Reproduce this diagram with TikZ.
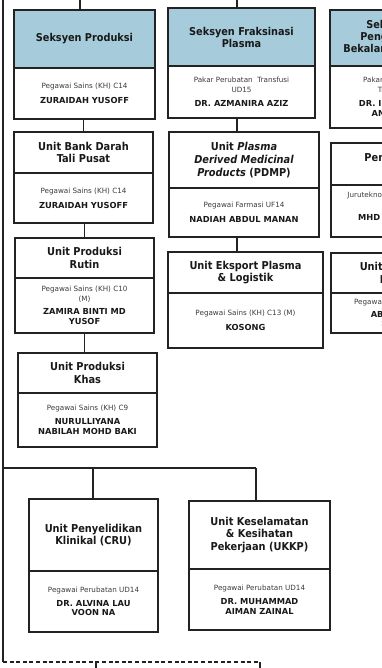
\documentclass[tikz,border=0pt]{standalone}
\usepackage{fontspec}
\setmainfont{DejaVu Sans}
\newfontfamily\condfont{DejaVu Sans Condensed}
\definecolor{hdrblue}{RGB}{166,204,219}
\definecolor{linec}{RGB}{34,34,34}
\definecolor{txtc}{RGB}{25,25,25}
\definecolor{smallc}{RGB}{60,60,60}
\newcommand\nmf{\color{txtc}\bfseries\fontsize{8.3}{10.2}\selectfont}
\tikzset{
  box/.style={draw=linec, line width=1.1pt, inner sep=0pt, outer sep=0pt, align=center, anchor=north west},
  hdrbox/.style={box, fill=hdrblue, text=txtc, font=\condfont\bfseries\fontsize{10.8}{12}\selectfont},
  unitbox/.style={box, fill=white, text=txtc, font=\condfont\bfseries\fontsize{10.9}{12.6}\selectfont},
  bodybox/.style={box, fill=white, text=smallc, font=\fontsize{7.2}{9.8}\selectfont},
  conn/.style={draw=linec, line width=1.1pt},
  dashconn/.style={draw=linec, line width=1.1pt, dash pattern=on 4pt off 2.6pt},
}
\begin{document}
\begin{tikzpicture}[x=1pt,y=-1pt]
\useasboundingbox (0,0) rectangle (382,668);
\clip (0,0) rectangle (382,668);
\fill[white] (0,0) rectangle (382,668);

% ---- column 1
\node[hdrbox, minimum width=141pt, minimum height=58pt] (sph) at (14,10) {Seksyen Produksi};
\node[bodybox, minimum width=141pt, minimum height=51pt] (spb) at (sph.south west) {Pegawai Sains (KH) C14\\[5pt]\nmf ZURAIDAH YUSOFF};

\node[unitbox, minimum width=139pt, minimum height=41pt] (ubdh) at (14,132) {Unit Bank Darah\\Tali Pusat};
\node[bodybox, minimum width=139pt, minimum height=50pt] (ubdb) at (ubdh.south west) {Pegawai Sains (KH) C14\\[5pt]\nmf ZURAIDAH YUSOFF};

\node[unitbox, minimum width=139pt, minimum height=40pt] (uprh) at (15,238) {Unit Produksi\\Rutin};
\node[bodybox, minimum width=139pt, minimum height=55pt] (uprb) at (uprh.south west) {Pegawai Sains (KH) C10\\(M)\\[3pt]\nmf ZAMIRA BINTI MD\\\nmf YUSOF};

\node[unitbox, minimum width=139pt, minimum height=40pt] (upkh) at (18,353) {Unit Produksi\\Khas};
\node[bodybox, minimum width=139pt, minimum height=54pt] (upkb) at (upkh.south west) {Pegawai Sains (KH) C9\\[4pt]\nmf NURULLIYANA\\\nmf NABILAH MOHD BAKI};

% ---- column 2
\node[hdrbox, minimum width=147pt, minimum height=58pt] (sfh) at (168,8) {Seksyen Fraksinasi\\Plasma};
\node[bodybox, minimum width=147pt, minimum height=52pt] (sfb) at (sfh.south west) {Pakar Perubatan~~Transfusi\\UD15\\[4pt]\nmf DR. AZMANIRA AZIZ};

\node[unitbox, minimum width=150pt, minimum height=56pt] (pdmph) at (169,132) {Unit \textit{Plasma}\\\textit{Derived Medicinal}\\\textit{Products} (PDMP)};
\node[bodybox, minimum width=150pt, minimum height=49pt] (pdmpb) at (pdmph.south west) {Pegawai Farmasi UF14\\[5pt]\nmf NADIAH ABDUL MANAN};

\node[unitbox, minimum width=155pt, minimum height=41pt] (ueph) at (168,252) {Unit Eksport Plasma\\\& Logistik};
\node[bodybox, minimum width=155pt, minimum height=55pt] (uepb) at (ueph.south west) {Pegawai Sains (KH) C13 (M)\\[5pt]\nmf KOSONG};

% ---- column 3 (cut by the right edge)
\node[hdrbox, minimum width=150pt, minimum height=56pt] (sbh) at (330,10) {Seksyen Mutu\\Pengurusan dan\\Bekalan Darah Negara};
\node[bodybox, minimum width=150pt, minimum height=62pt] (sbb) at (sbh.south west) {Pakar Perubatan Kanan\\Transfusi UD15\\[4pt]\nmf DR. ISMALIZA BINTI\\\nmf ANWAR SAHRI};

\node[unitbox, minimum width=150pt, minimum height=42pt] (r2h) at (331,143) {Penyelidikan \&\\Inovasi};
\node[bodybox, minimum width=150pt, minimum height=52pt] (r2b) at (r2h.south west) {Juruteknologi Makmal Perubatan\\Penyelia U32\\[3pt]\nmf MHD LIZAM BIN ABD\\\nmf ISMAIL};

\node[unitbox, minimum width=150pt, minimum height=40pt] (r3h) at (331,253) {Unit Pengurusan\\Dokumen};
\node[bodybox, minimum width=150pt, minimum height=40pt] (r3b) at (r3h.south west) {Pegawai Teknologi Maklumat\\[3pt]\nmf ABU ZARIN BIN\\\nmf SULAIMAN};

% ---- bottom row
\node[unitbox, minimum width=129pt, minimum height=72pt] (cruh) at (29,499) {Unit Penyelidikan\\Klinikal (CRU)};
\node[bodybox, minimum width=129pt, minimum height=61pt] (crub) at (cruh.south west) {Pegawai Perubatan UD14\\[4pt]\nmf DR. ALVINA LAU\\\nmf VOON NA};

\node[unitbox, minimum width=141pt, minimum height=68pt] (ukkph) at (189,501) {Unit Keselamatan\\\& Kesihatan\\Pekerjaan (UKKP)};
\node[bodybox, minimum width=141pt, minimum height=61pt] (ukkpb) at (ukkph.south west) {Pegawai Perubatan UD14\\[4pt]\nmf DR. MUHAMMAD\\\nmf AIMAN ZAINAL};

% ---- connectors
\coordinate (t1) at (80,0);
\coordinate (t2) at (237,0);
\draw[conn] (t1) -- (t1 |- sph.north);
\draw[conn] (t2) -- (t2 |- sfh.north);
\draw[conn] (spb.south -| ubdh.north) -- (ubdh.north);
\draw[conn] (ubdb.south -| uprh.north) -- (uprh.north);
\draw[conn] (uprb.south) -- (uprb.south |- upkh.north);
\draw[conn] (sfb.south -| t2) -- (pdmph.north -| t2);
\draw[conn] (pdmpb.south -| t2) -- (ueph.north -| t2);

\coordinate (L0) at (3,0);
\coordinate (L1) at (3,468);
\coordinate (L2) at (3,662);
\coordinate (B1) at (93,468);
\coordinate (B2) at (256,468);
\coordinate (D1) at (96,662);
\coordinate (D2) at (260,662);
\coordinate (D3) at (260,668);
\draw[conn] (L0) -- (L2);
\draw[conn] (L1) -- (B2);
\draw[conn] (B1) -- (B1 |- cruh.north);
\draw[conn] (B2) -- (B2 |- ukkph.north);
\draw[dashconn] (L2) -- (D2);
\draw[conn] (D2) -- (D3);
\draw[conn] (D1) -- (D1 |- D3);
\end{tikzpicture}
\end{document}
